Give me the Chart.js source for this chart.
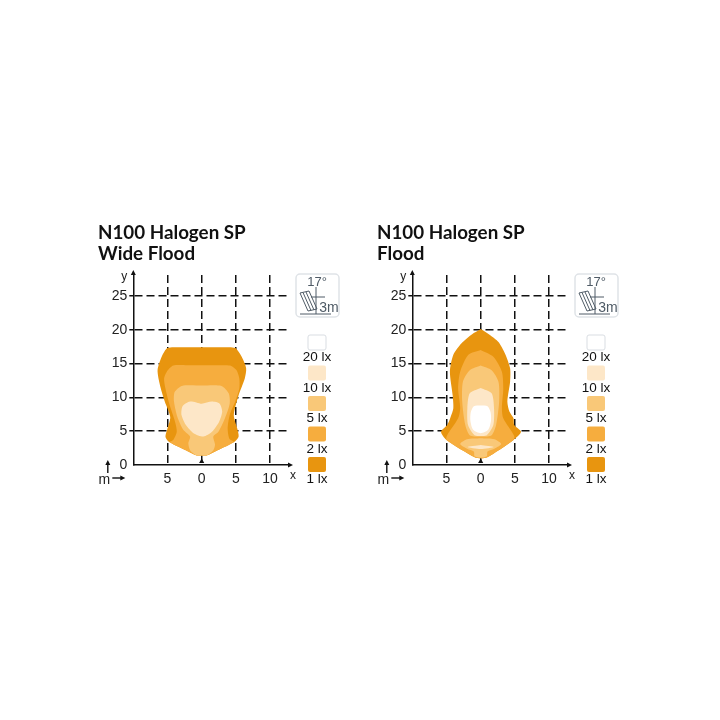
<!DOCTYPE html>
<html>
<head>
<meta charset="utf-8">
<title>N100 Halogen SP</title>
<script src="https://cdn.jsdelivr.net/npm/chart.js@4/dist/chart.umd.min.js"></script>
<style>
  html, body { margin: 0; background: #fff; }
  canvas { position: absolute; top: 215px; }
  #wideChart { left: 88px; }
  #floodChart { left: 367px; }
</style>
</head>
<body>
<canvas id="wideChart" width="262" height="275"></canvas>
<canvas id="floodChart" width="262" height="275"></canvas>
<script>
const xTickValues = [-5, 0, 5, 10];
const yTickValues = [0, 5, 10, 15, 20, 25];
const legendLabels = ['20 lx', '10 lx', '5 lx', '2 lx', '1 lx'];
const legendColors = ['#ffffff', '#fde7c8', '#f9c878', '#f6ad3e', '#e8950f'];
const sourcePoint = [[0, 0.5]];

// outlines in metres [x, y]
const wide1lx = [[0,1.4],[0.7,1.4],[2.8,2.4],[4.9,3.5],[5.4,4.2],[5.2,5.4],[4.7,7.4],[5.4,10.3],[6.3,12.8],[6.5,14.3],[5.85,16],[4.9,17.3],[3,17.4],[0,17.4],[-3,17.4],[-5,17.3],[-5.85,16],[-6.45,14],[-6.1,11.8],[-5.4,9.4],[-4.6,7.1],[-5,5.4],[-5.3,4.2],[-4.9,3.5],[-2.8,2.4],[-0.7,1.4],[0,1.4]];
const wide2lx = [[0,1.4],[0.7,1.4],[2.8,2.4],[4.7,3.4],[4.05,3.9],[3.8,5.4],[4.1,7.4],[4.9,9.4],[5.5,11.3],[5.5,12.8],[5.1,14],[4.15,14.7],[2,14.75],[0,14.75],[-2,14.75],[-4.15,14.7],[-5.1,13.8],[-5.5,12.8],[-5.3,11.3],[-4.7,8.9],[-3.9,6.4],[-3.65,4.9],[-4.15,3.7],[-4.7,3.4],[-2.8,2.4],[-0.7,1.4],[0,1.4]];
const wide5lx = [[0,1.4],[0.7,1.4],[1.7,2.2],[1.95,3],[1.7,4.2],[2.45,4.9],[3.4,6.9],[4.1,9.1],[3.95,10.6],[2.9,11.7],[0,11.75],[-2.9,11.7],[-3.95,10.8],[-4.05,9.4],[-3.55,7.1],[-2.7,5.2],[-1.7,4.2],[-1.95,3.2],[-1.7,2.2],[-0.7,1.4],[0,1.4]];
const wide10lx = [[0,9.05],[1.5,9.4],[2.6,9.1],[3,7.9],[2.55,6.4],[1.5,4.9],[0.25,4.2],[-1.2,4.7],[-2.3,5.9],[-2.95,7.4],[-2.8,8.7],[-1.7,9.4],[0,9.05]];

const flood1lx = [[0,20.1],[1.4,19.2],[2.6,18.2],[3.55,16.5],[4.3,14.3],[4.3,12.3],[3.9,9.4],[4.2,7.9],[4.8,6.9],[4.9,5.9],[5.9,4.9],[4.8,3.7],[0.9,1.1],[0,1],[-0.8,1.1],[-5,3.7],[-5.8,4.9],[-4.9,5.9],[-4.4,7.1],[-4,8.4],[-4.1,10.3],[-4.5,13.8],[-4,16.3],[-2.8,18],[-1.3,19.3],[0,20.1]];
const flood2lx = [[0,17],[1.85,16],[3.1,13.8],[3.3,11.3],[3.1,8.4],[3.3,6.9],[4.9,4.3],[4.8,3.7],[0.9,1.1],[0,1],[-0.8,1.1],[-5,3.7],[-4.9,4.4],[-3.3,6.9],[-3,8.4],[-3.3,11.3],[-3,13.8],[-1.8,16.3],[0,17]];
const flood5lx = [[0,14.7],[1.6,14],[2.6,12.3],[2.7,9.4],[2.25,5.9],[1.6,4.4],[0,4.2],[-1.6,4.4],[-2.25,5.9],[-2.7,9.4],[-2.6,12.3],[-1.6,14],[0,14.7]];
const flood5lxLens = [[0,3.95],[2,3.8],[3,3.1],[2,2.4],[1,2],[0.9,1.3],[0,1.1],[-0.9,1.3],[-1,2],[-2,2.4],[-3,3.1],[-2,3.8],[0,3.95]];
const flood10lx = [[0,11.4],[1.6,10.6],[1.95,8.4],[1.85,5.9],[0.9,4.4],[0,4.3],[-0.9,4.4],[-1.85,5.9],[-1.95,8.4],[-1.6,10.6],[0,11.4]];
const flood10lxLens = [[0,2.95],[1.9,2.65],[0,2.35],[-1.9,2.65],[0,2.95]];
const flood20lx = [[0,8.8],[1,8.7],[1.45,7.8],[1.5,6.5],[1.1,5.2],[0,4.7],[-1.1,5.2],[-1.5,6.5],[-1.45,7.8],[-1,8.7],[0,8.8]];

const toPoints = list => list.map(([x, y]) => ({ x, y }));

const shape = (list, color) => ({
  data: toPoints(list),
  showLine: true,
  fill: 'shape',
  backgroundColor: color,
  borderWidth: 0,
  pointRadius: 0,
  tension: 0.25
});

const marker = {
  data: toPoints(sourcePoint),
  pointStyle: 'triangle',
  pointRadius: 3,
  backgroundColor: '#111',
  borderWidth: 0
};

// legend, lamp icon and axis arrows sit outside the scales
const extras = {
  id: 'extras',
  afterDraw(chart) {
    const { ctx, chartArea: a } = chart;
    ctx.save();
    ctx.fillStyle = '#111';
    ctx.strokeStyle = '#111';
    ctx.lineWidth = 1.4;
    const arrowRight = (x1, x2, y) => {
      ctx.beginPath(); ctx.moveTo(x1, y); ctx.lineTo(x2, y); ctx.stroke();
      ctx.beginPath(); ctx.moveTo(x2 + 4, y); ctx.lineTo(x2 - 1, y - 2.5); ctx.lineTo(x2 - 1, y + 2.5); ctx.fill();
    };
    const arrowUp = (x, y1, y2) => {
      ctx.beginPath(); ctx.moveTo(x, y1); ctx.lineTo(x, y2); ctx.stroke();
      ctx.beginPath(); ctx.moveTo(x, y2 - 4); ctx.lineTo(x - 2.5, y2 + 1); ctx.lineTo(x + 2.5, y2 + 1); ctx.fill();
    };
    arrowRight(a.right, a.right + 1, a.bottom);
    arrowUp(a.left, a.top, a.top - 1);
    arrowRight(a.left - 21, a.left - 12, a.bottom + 13);
    arrowUp(a.left - 25.5, a.bottom + 8, a.bottom - 1);

    ctx.textAlign = 'center';
    ctx.textBaseline = 'middle';
    ctx.font = '12px "Liberation Sans"';
    ctx.fillStyle = '#222';
    ctx.fillText('x', a.right + 5, a.bottom + 11);
    ctx.fillText('y', a.left - 9, a.top + 2);
    ctx.font = '14px "Liberation Sans"';
    ctx.fillText('m', a.left - 29, a.bottom + 15);

    // legend
    const lx = a.right + 20;
    legendLabels.forEach((label, i) => {
      const top = a.top + 60 + i * 30.5;
      ctx.beginPath();
      ctx.roundRect(lx, top, 18, 15, 2);
      ctx.fillStyle = legendColors[i];
      ctx.fill();
      if (i === 0) {
        ctx.strokeStyle = '#d9dde2';
        ctx.lineWidth = 1;
        ctx.stroke();
      }
      ctx.fillStyle = '#111';
      ctx.font = '13.5px "Liberation Sans"';
      ctx.fillText(label, lx + 9, top + 22.5);
    });

    // lamp icon
    const ix = a.right + 8, iy = a.top - 1;
    ctx.strokeStyle = '#dfe3e7';
    ctx.lineWidth = 1.5;
    ctx.beginPath();
    ctx.roundRect(ix, iy, 43, 43, 4);
    ctx.stroke();
    ctx.strokeStyle = '#4f5b66';
    ctx.lineWidth = 1;
    ctx.beginPath();
    ctx.moveTo(ix + 4, iy + 19); ctx.lineTo(ix + 13, iy + 17); ctx.lineTo(ix + 21, iy + 35); ctx.lineTo(ix + 12, iy + 37); ctx.closePath();
    ctx.moveTo(ix + 7, iy + 18.5); ctx.lineTo(ix + 15, iy + 36.5);
    ctx.moveTo(ix + 10, iy + 18); ctx.lineTo(ix + 18, iy + 36);
    ctx.moveTo(ix + 4, iy + 40); ctx.lineTo(ix + 35, iy + 40);
    ctx.moveTo(ix + 20, iy + 13); ctx.lineTo(ix + 20, iy + 40);
    ctx.moveTo(ix + 15, iy + 23); ctx.lineTo(ix + 29, iy + 23);
    ctx.stroke();
    ctx.fillStyle = '#4f5b66';
    ctx.font = '13px "Liberation Sans"';
    ctx.fillText('17°', ix + 21, iy + 8);
    ctx.font = '14px "Liberation Sans"';
    ctx.fillText('3m', ix + 33, iy + 34);
    ctx.restore();
  }
};

const createChart = (id, title, datasets) => new Chart(document.getElementById(id), {
  type: 'scatter',
  data: { datasets },
  plugins: [extras],
  options: {
    responsive: false,
    animation: false,
    events: [],
    layout: { padding: { left: 10, right: 62, top: 0, bottom: 0 } },
    plugins: {
      legend: { display: false },
      tooltip: { enabled: false },
      title: {
        display: true,
        text: title,
        align: 'start',
        color: '#111',
        font: { family: 'Lato', weight: 'bold', size: 18.8, lineHeight: 1.12 },
        padding: { top: 7, bottom: 10.9 }
      }
    },
    scales: {
      x: {
        type: 'linear',
        min: -10,
        max: 12.62,
        afterBuildTicks: scale => { scale.ticks = xTickValues.map(value => ({ value })); },
        afterFit: scale => { scale.height = 25; },
        ticks: {
          autoSkip: false,
          maxRotation: 0,
          padding: 6,
          color: '#222',
          font: { family: 'Liberation Sans', size: 14 },
          callback: value => Math.abs(value)
        },
        grid: { color: '#111', lineWidth: 1.5, drawTicks: false },
        border: { color: '#111', width: 1.5, dash: [8, 4] }
      },
      y: {
        type: 'linear',
        min: 0,
        max: 28.1,
        afterBuildTicks: scale => { scale.ticks = yTickValues.map(value => ({ value })); },
        afterFit: scale => { scale.width = 35.3; },
        ticks: {
          autoSkip: false,
          padding: 2,
          color: '#222',
          font: { family: 'Liberation Sans', size: 14 }
        },
        grid: {
          color: c => (c.tick.value === 0 ? 'transparent' : '#111'),
          tickColor: c => (c.tick.value === 0 ? 'transparent' : '#111'),
          lineWidth: 1.5,
          tickLength: 4
        },
        border: { color: '#111', width: 1.5, dash: [8, 4] }
      }
    }
  }
});

createChart('wideChart', ['N100 Halogen SP', 'Wide Flood'], [
  marker,
  shape(wide10lx, legendColors[1]),
  shape(wide5lx, legendColors[2]),
  shape(wide2lx, legendColors[3]),
  shape(wide1lx, legendColors[4])
]);

createChart('floodChart', ['N100 Halogen SP', 'Flood'], [
  marker,
  shape(flood20lx, legendColors[0]),
  shape(flood10lxLens, legendColors[1]),
  shape(flood10lx, legendColors[1]),
  shape(flood5lxLens, legendColors[2]),
  shape(flood5lx, legendColors[2]),
  shape(flood2lx, legendColors[3]),
  shape(flood1lx, legendColors[4])
]);
</script>
</body>
</html>
